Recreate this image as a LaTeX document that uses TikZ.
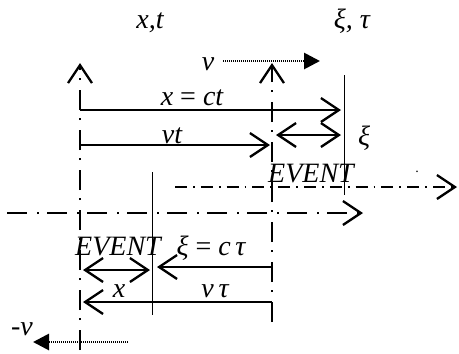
\documentclass[tikz,border=0pt]{standalone}
\usepackage{fontspec}
\setmainfont{Liberation Serif}
\usetikzlibrary{arrows.meta}
\begin{document}
\begin{tikzpicture}[x=1pt,y=-1pt,
  >={Straight Barb[length=18pt,width=24pt]},
  lbl/.style={inner sep=0pt, anchor=base, font=\fontsize{28}{30}\selectfont\itshape},
  solidln/.style={line width=2.3pt, line join=miter},
  axisA/.style={line width=2.3pt, dash pattern=on 20pt off 10pt on 1.8pt off 8.2pt},
  axisB/.style={line width=2.3pt, dash pattern=on 12pt off 6pt on 1.8pt off 6pt},
  thinln/.style={line width=0.9pt},
  vel/.style={line width=2.8pt, dash pattern=on 1pt off 1pt, -{Triangle[length=16pt,width=16pt]}},
]
\useasboundingbox (0,0) rectangle (459,354);
% coordinates
\coordinate (LT) at (80,63);
\coordinate (LB) at (80,350);
\coordinate (RT) at (272,63);
\coordinate (RB) at (272,322);
\coordinate (T1a) at (344,75);
\coordinate (T1b) at (344,195);
\coordinate (T2a) at (152,172);
\coordinate (T2b) at (152,315);
\coordinate (XCa) at (80,110);
\coordinate (XCb) at (341,110);
\coordinate (VTa) at (80,145);
\coordinate (VTb) at (270,145);
\coordinate (XIa) at (276,135);
\coordinate (XIb) at (341,135);
\coordinate (UHa) at (175,187);
\coordinate (UHb) at (457,187);
\coordinate (LHa) at (7,213);
\coordinate (LHb) at (363,213);
\coordinate (XDa) at (83,270);
\coordinate (XDb) at (150,270);
\coordinate (XTa) at (272,267);
\coordinate (XTb) at (157,267);
\coordinate (VUa) at (272,302);
\coordinate (VUb) at (83,302);
\coordinate (Va) at (223,61);
\coordinate (Vb) at (320,61);
\coordinate (MVa) at (128,342);
\coordinate (MVb) at (33,342);
% axes
\draw[axisA,->] (LB) -- (LT);
\draw[axisA,->] (RB) -- (RT);
\draw[axisB,->] (UHa) -- (UHb);
\draw[axisA,->] (LHa) -- (LHb);
% thin lines
\draw[thinln] (T1a) -- (T1b);
\draw[thinln] (T2a) -- (T2b);
% solid arrows
\draw[solidln,->] (XCa) -- (XCb);
\draw[solidln,->] (VTa) -- (VTb);
\draw[solidln,<->] (XIa) -- (XIb);
\draw[solidln,<->] (XDa) -- (XDb);
\draw[solidln,->] (XTa) -- (XTb);
\draw[solidln,->] (VUa) -- (VUb);
% velocity arrows
\draw[vel] (Va) -- (Vb);
\draw[vel] (MVa) -- (MVb);
% labels
\node[lbl] (lxt) at (150,28) {x,t};
\node[lbl] (lxitau) at (352,28) {ξ, τ};
\node[lbl] (lv) at (208,70) {v};
\node[lbl] (lxct) at (192,105) {x \textup{=} ct};
\node[lbl] (lvt) at (172,143) {vt};
\node[lbl] (lxi) at (364,145) {ξ};
\node[lbl] (lev1) at (311,182) {EVENT};
\node[inner sep=0pt, anchor=base, font=\fontsize{14}{16}\selectfont] (ldot) at (417,172) {.};
\node[lbl] (lev2) at (118,255) {EVENT};
\node[lbl] (lxicr) at (211,255) {ξ \textup{=} c\,τ};
\node[lbl] (lx) at (119,297) {x};
\node[lbl] (lvtau) at (215,297) {v\,τ};
\node[lbl] (lmv) at (22,335) {-v};
\end{tikzpicture}
\end{document}
